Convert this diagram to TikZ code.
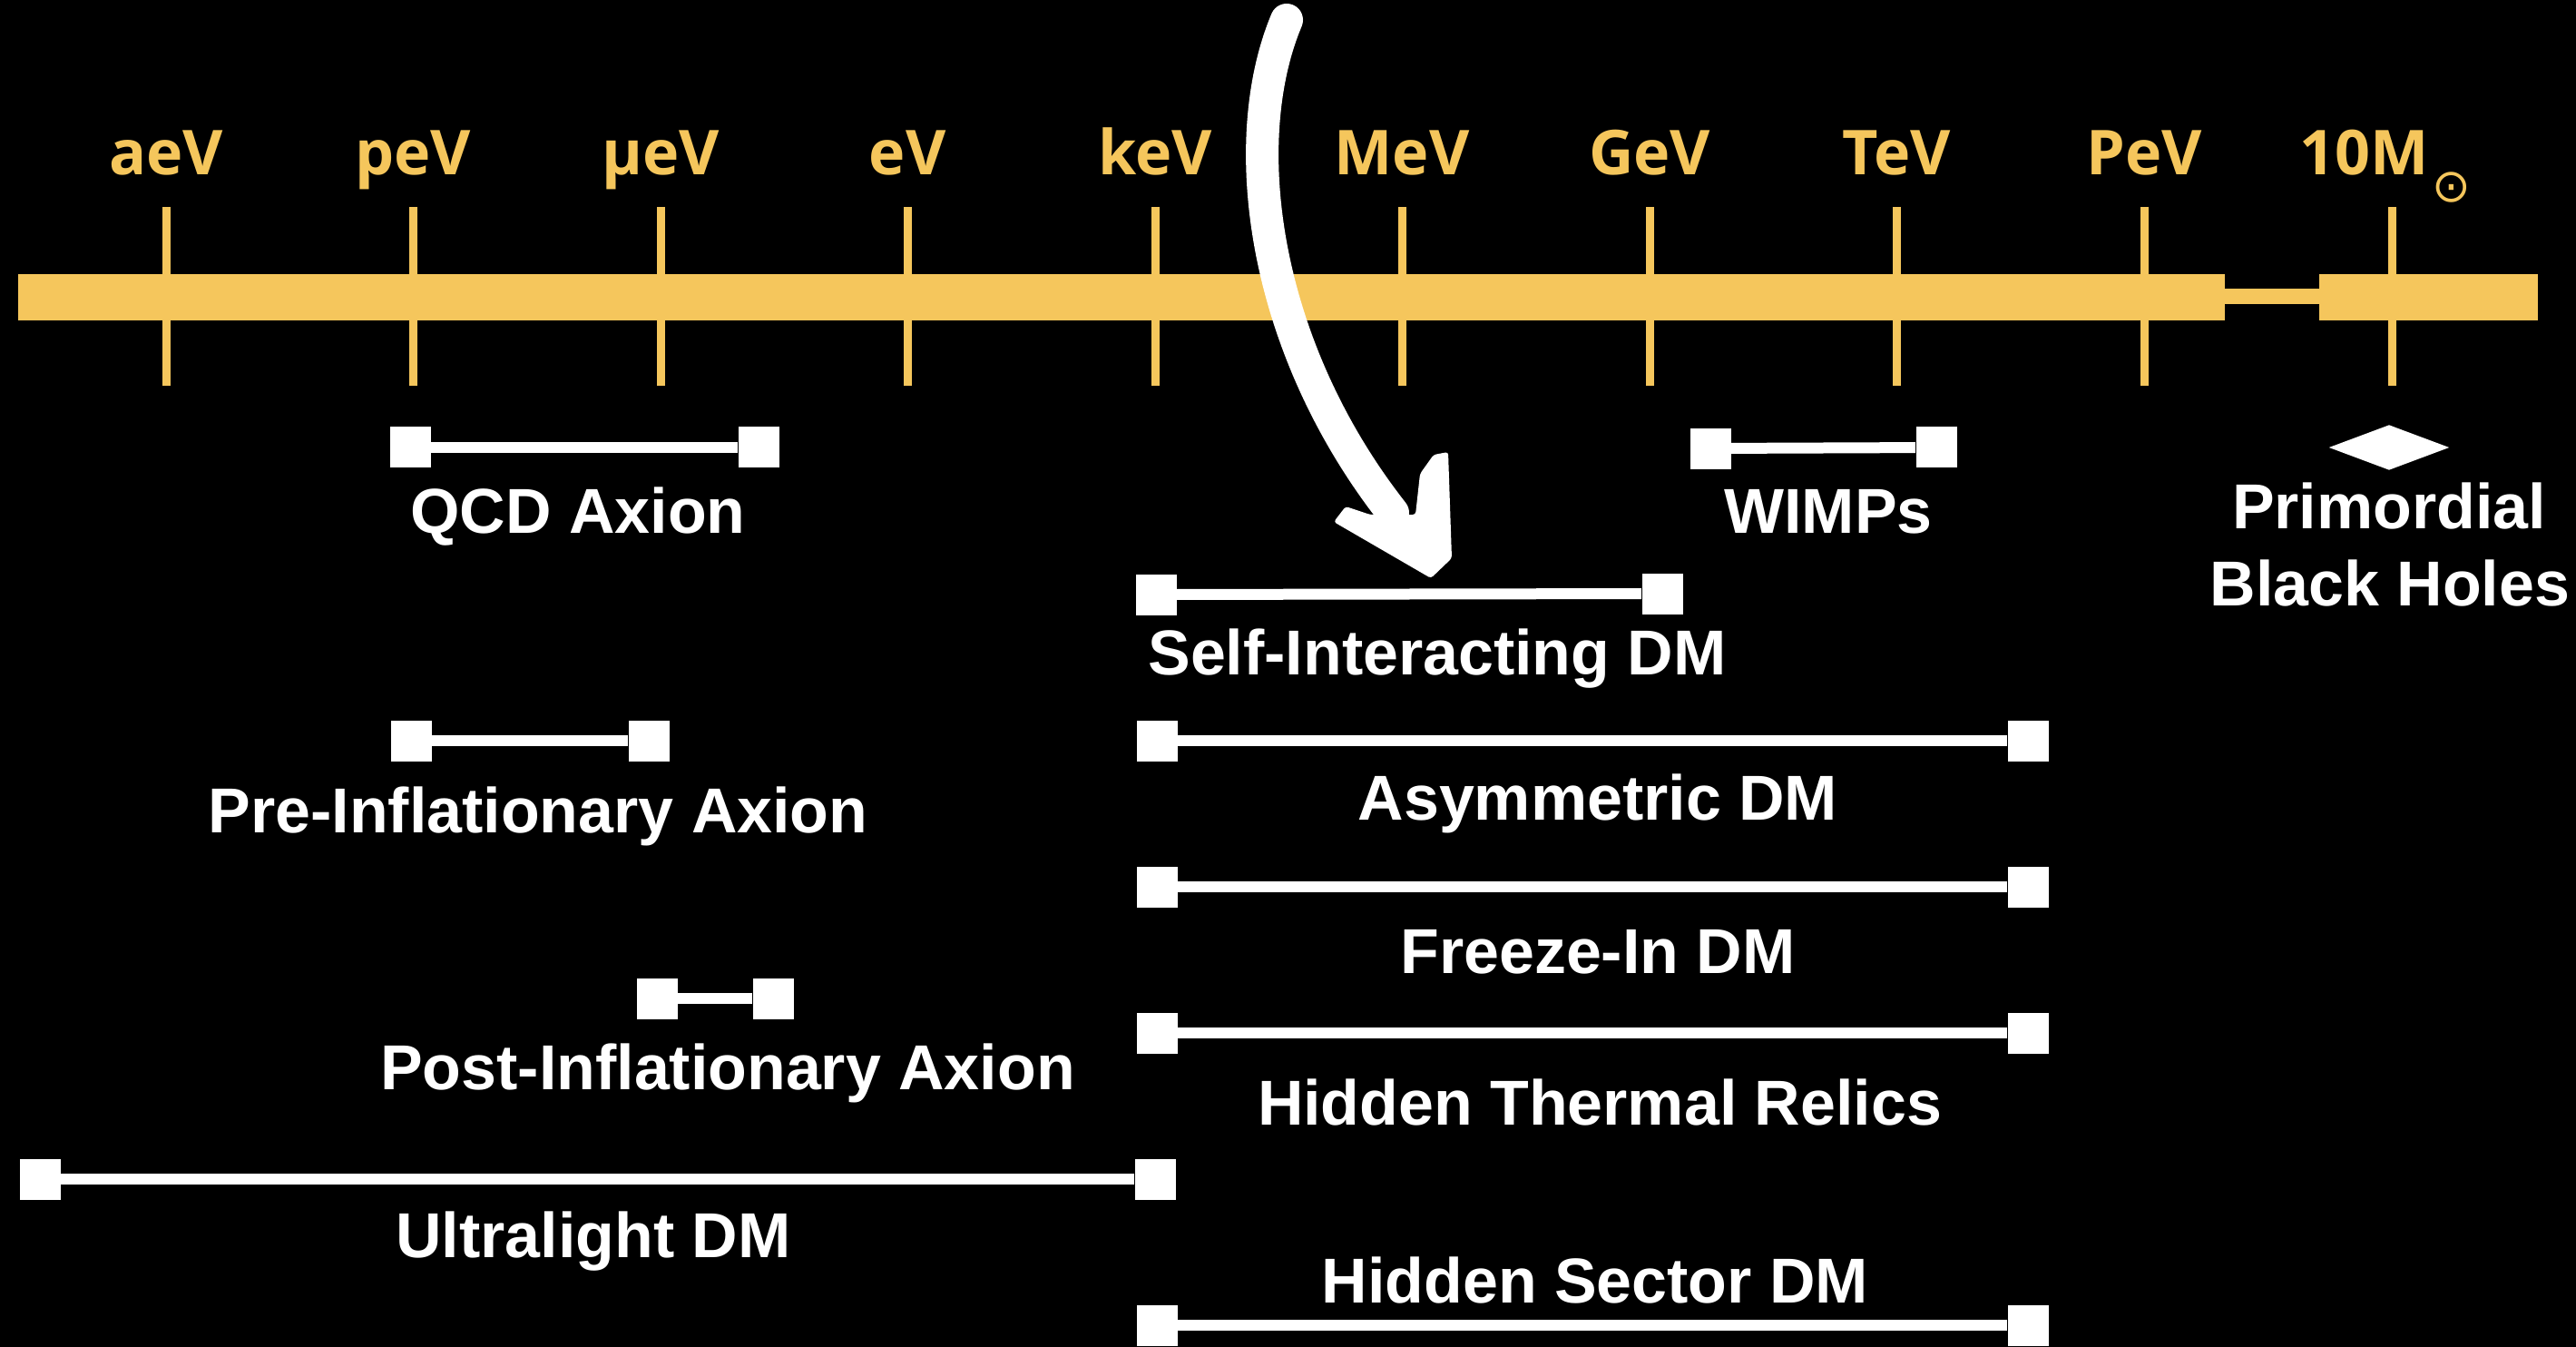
\documentclass[tikz,border=0pt]{standalone}
\usepackage{fontspec}
\setmainfont{Liberation Sans}
\newfontfamily\yfont{Open Sans}
\newfontfamily\symfont{DejaVu Sans}
\usetikzlibrary{shapes.geometric}
\definecolor{axisyellow}{RGB}{245,198,92}
\begin{document}
\begin{tikzpicture}[
  lbl/.style={text=white, font=\fontsize{19.9pt}{24pt}\selectfont\bfseries, inner sep=0pt, anchor=base},
  tlbl/.style={text=axisyellow, font=\yfont\fontsize{19.4pt}{24pt}\selectfont\bfseries, inner sep=0pt, anchor=base},
  endsq/.style={rectangle, fill=white, minimum size=0.45cm, inner sep=0pt},
  rng/.style={white, line width=0.12cm},
  tickmark/.style={axisyellow, line width=0.09cm},
  axisbar/.style={fill=axisyellow},
]
\useasboundingbox (0,0) rectangle (28.39,-14.84);
\fill[black] (0,0) rectangle (28.39,-14.84);

% axis ticks
\foreach \x in {1.83,4.55,7.28,10.00,12.73,15.45,18.18,20.90,23.63,26.36}
  \draw[tickmark] (\x,-2.28) -- (\x,-4.25);
% axis bar
\fill[axisbar] (0.20,-3.02) rectangle (24.52,-3.53);
\fill[axisbar] (24.50,-3.18) rectangle (25.58,-3.35);
\fill[axisbar] (25.56,-3.02) rectangle (27.97,-3.53);

% tick labels
\node[tlbl] (laeV) at (1.83,-1.93) {aeV};
\node[tlbl] (lpeV) at (4.55,-1.93) {peV};
\node[tlbl] (lmueV) at (7.28,-1.93) {µeV};
\node[tlbl] (leV) at (10.00,-1.93) {eV};
\node[tlbl] (lkeV) at (12.73,-1.93) {keV};
\node[tlbl] (lMeV) at (15.45,-1.93) {MeV};
\node[tlbl] (lGeV) at (18.18,-1.93) {GeV};
\node[tlbl] (lTeV) at (20.90,-1.93) {TeV};
\node[tlbl] (lPeV) at (23.63,-1.93) {PeV};
\node[tlbl, anchor=base east] (l10M) at (26.77,-1.93) {10M};
\node[text=axisyellow, font=\symfont\fontsize{14.5pt}{16pt}\selectfont, inner sep=0pt, anchor=base] (lsun) at (27.02,-2.23) {⊙};

% ranges
\node[endsq] (qcdL) at (4.52,-4.93) {};
\node[endsq] (qcdR) at (8.36,-4.93) {};
\draw[rng] (qcdL) -- (qcdR);
\node[lbl] (qcdT) at (6.37,-5.88) {QCD Axion};

\node[endsq] (wimpL) at (18.85,-4.94) {};
\node[endsq] (wimpR) at (21.34,-4.93) {};
\draw[rng] (wimpL) -- (wimpR);
\node[lbl] (wimpT) at (20.15,-5.88) {WIMPs};

\node[diamond, fill=white, minimum width=1.33cm, minimum height=0.50cm, inner sep=0pt] (pbh) at (26.33,-4.93) {};
\node[lbl] (pbhT1) at (26.33,-5.82) {Primordial};
\node[lbl] (pbhT2) at (26.34,-6.67) {Black Holes};

\node[endsq] (sidmL) at (12.74,-6.55) {};
\node[endsq] (sidmR) at (18.32,-6.54) {};
\draw[rng] (sidmL) -- (sidmR);
\node[lbl] (sidmT) at (15.84,-7.43) {Self-Interacting DM};

\node[endsq] (preL) at (4.53,-8.16) {};
\node[endsq] (preR) at (7.15,-8.16) {};
\draw[rng] (preL) -- (preR);
\node[lbl] (preT) at (5.93,-9.17) {Pre-Inflationary Axion};

\node[endsq] (asymL) at (12.75,-8.16) {};
\node[endsq] (asymR) at (22.35,-8.16) {};
\draw[rng] (asymL) -- (asymR);
\node[lbl] (asymT) at (17.61,-9.03) {Asymmetric DM};

\node[endsq] (frzL) at (12.75,-9.77) {};
\node[endsq] (frzR) at (22.35,-9.77) {};
\draw[rng] (frzL) -- (frzR);
\node[lbl] (frzT) at (17.61,-10.72) {Freeze-In DM};

\node[endsq] (postL) at (7.24,-11.00) {};
\node[endsq] (postR) at (8.52,-11.00) {};
\draw[rng] (postL) -- (postR);
\node[lbl] (postT) at (8.02,-12.00) {Post-Inflationary Axion};

\node[endsq] (htrL) at (12.75,-11.38) {};
\node[endsq] (htrR) at (22.35,-11.38) {};
\draw[rng] (htrL) -- (htrR);
\node[lbl] (htrT) at (17.63,-12.39) {Hidden Thermal Relics};

\node[endsq] (ulL) at (0.44,-12.99) {};
\node[endsq] (ulR) at (12.73,-12.99) {};
\draw[rng] (ulL) -- (ulR);
\node[lbl] (ulT) at (6.54,-13.85) {Ultralight DM};

\node[endsq] (hsL) at (12.75,-14.60) {};
\node[endsq] (hsR) at (22.35,-14.60) {};
\draw[rng] (hsL) -- (hsR);
\node[lbl] (hsT) at (17.58,-14.35) {Hidden Sector DM};

% curved white arrow
\coordinate (arrS) at (14.18,-0.22);
\coordinate (arrE) at (15.35,-5.65);
\draw[white, line width=0.36cm, line cap=round] (arrS) .. controls (13.62,-1.55) and (13.90,-3.80) .. (arrE);
\fill[white, rounded corners=0.03cm] (15.10,-5.67) -- (14.83,-5.58) -- (14.70,-5.75) -- (15.77,-6.37) -- (16.00,-6.15) -- (15.96,-4.98) -- (15.80,-5.01) -- (15.65,-5.22) -- (15.60,-5.67) -- cycle;
\end{tikzpicture}
\end{document}
